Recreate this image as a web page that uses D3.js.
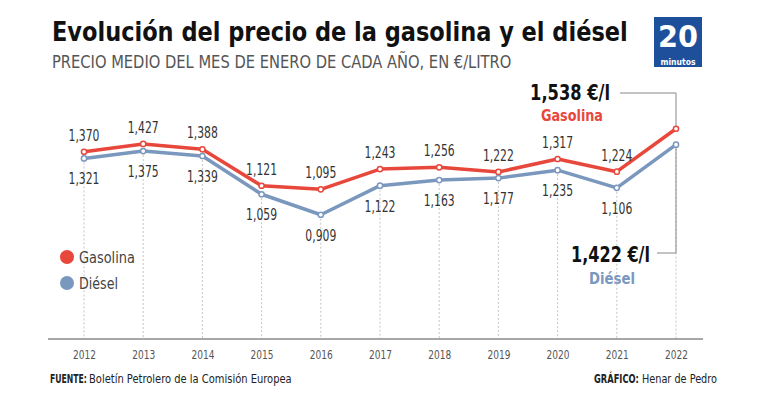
<!DOCTYPE html>
<html><head><meta charset="utf-8">
<script src="https://cdn.jsdelivr.net/npm/d3@7"></script>
<style>
body{margin:0;background:#fff;}
svg text{font-family:"Liberation Sans Narrow","DejaVu Sans Condensed","Roboto",sans-serif;}
</style></head>
<body><svg id="c" width="768" height="405"></svg>
<script>
const years = ["2012","2013","2014","2015","2016","2017","2018","2019","2020","2021","2022"];
const gasolina = [1.370,1.427,1.388,1.121,1.095,1.243,1.256,1.222,1.317,1.224,1.538];
const diesel = [1.321,1.375,1.339,1.059,0.909,1.122,1.163,1.177,1.235,1.106,1.422];
const seriesNames = ["Gasolina","Diésel"];
const colors = {gas:"#e8473b", die:"#7a97be"};

const svg = d3.select("#c");
const x = d3.scalePoint().domain(years).range([84,676]);
const y = d3.scaleLinear().domain([0,1.6]).range([339,120.3]);
const fmt = v => d3.format(".3f")(v).replace(".", ",");

// text fitted to a width by horizontal scaling
function txt(parent, xp, yp, s, size, width, opts={}) {
  const t = parent.append("text").attr("font-size",size).text(s)
    .attr("fill", opts.fill || "#222");
  if (opts.bold) t.attr("font-weight","bold");
  if (opts.anchor) t.attr("text-anchor",opts.anchor);
  const w = t.node().getComputedTextLength();
  const k = width / w;
  t.attr("transform",`translate(${xp},${yp}) scale(${k},1)`);
  return t;
}

// title
txt(svg,52,41,"Evolución del precio de la gasolina y el diésel",27,576,{bold:true,fill:"#111"});
txt(svg,52,68,"PRECIO MEDIO DEL MES DE ENERO DE CADA AÑO, EN €/LITRO",17,460,{fill:"#555"});

// logo
svg.append("rect").attr("x",654).attr("y",17).attr("width",48).attr("height",50).attr("fill","#1d4f9a");
txt(svg,678,47,"20",30,40,{bold:true,fill:"#fff",anchor:"middle"});
txt(svg,678,64.5,"minutos",8.5,35,{bold:true,fill:"#fff",anchor:"middle"});

// dotted verticals
svg.append("g").selectAll("line").data(years).join("line")
  .attr("x1",d=>x(d)).attr("x2",d=>x(d))
  .attr("y1",(d,i)=> y(diesel[i]))
  .attr("y2",y(0))
  .attr("stroke","#c4c4c4").attr("stroke-width",1).attr("stroke-dasharray","2,2");

// axis
const axis = svg.append("g").attr("transform",`translate(0,${y(0)})`)
  .call(d3.axisBottom(x).tickSize(0).tickPadding(11));
axis.select(".domain").attr("d",`M48,0H703`).attr("stroke","#8a8a8a").attr("stroke-width",1.5);
axis.selectAll("text").attr("font-size",13).attr("fill","#555").attr("font-family",null)
  .each(function(){
    const w = this.getComputedTextLength();
    d3.select(this).attr("transform",`scale(${23/w},1)`);
  });

// annotation brackets
const last = years.length-1;
svg.append("path").attr("d",`M620,93H${x(years[last])}V${y(gasolina[last])}`)
  .attr("fill","none").attr("stroke","#888").attr("stroke-width",1);
svg.append("path").attr("d",`M657,253H${x(years[last])}V${y(diesel[last])}`)
  .attr("fill","none").attr("stroke","#888").attr("stroke-width",1);

// lines
const line = arr => d3.line().x((d,i)=>x(years[i])).y(d=>y(d))(arr);
svg.append("path").attr("d",line(diesel)).attr("fill","none").attr("stroke",colors.die).attr("stroke-width",3.5).attr("stroke-linejoin","round");
svg.append("path").attr("d",line(gasolina)).attr("fill","none").attr("stroke",colors.gas).attr("stroke-width",3.5).attr("stroke-linejoin","round");

[[gasolina,colors.gas],[diesel,colors.die]].forEach(([arr,col])=>{
  svg.append("g").selectAll("circle").data(arr).join("circle")
    .attr("cx",(d,i)=>x(years[i])).attr("cy",d=>y(d)).attr("r",2.6)
    .attr("fill","#fff").attr("stroke",col).attr("stroke-width",1.5);
});

// value labels
const gl = svg.append("g");
gasolina.slice(0,last).forEach((d,i)=> txt(gl, x(years[i]), y(d)-11, fmt(d), 15.5, 31, {fill:"#333",anchor:"middle"}));
const dl = svg.append("g");
diesel.slice(0,last).forEach((d,i)=> txt(dl, x(years[i]), y(d)+26, fmt(d), 15.5, 31, {fill:"#333",anchor:"middle"}));

// big annotations
txt(svg,610,100,fmt(gasolina[last])+" €/l",21,80,{bold:true,fill:"#111",anchor:"end"});
txt(svg,572,121,seriesNames[0],16,62,{bold:true,fill:colors.gas,anchor:"middle"});
txt(svg,650,262,fmt(diesel[last])+" €/l",21,79,{bold:true,fill:"#111",anchor:"end"});
txt(svg,612,284,seriesNames[1],16,46,{bold:true,fill:colors.die,anchor:"middle"});

// legend
[[seriesNames[0],colors.gas,257,56],[seriesNames[1],colors.die,283,39]].forEach(([n,c,cy,w])=>{
  svg.append("circle").attr("cx",67).attr("cy",cy).attr("r",7).attr("fill",c);
  txt(svg,79,cy+5.5,n,15,w,{fill:"#444"});
});

// footer
txt(svg,50,383,"FUENTE:",12,37,{bold:true});
txt(svg,89,383,"Boletín Petrolero de la Comisión Europea",12,203);
txt(svg,594,383,"GRÁFICO:",12,45,{bold:true});
txt(svg,642,383,"Henar de Pedro",12,75);
</script></body></html>
